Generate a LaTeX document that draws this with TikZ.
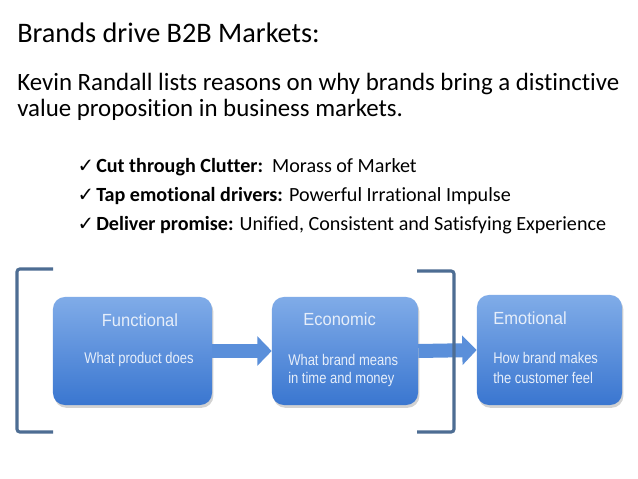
\documentclass[tikz,border=0pt]{standalone}
\usepackage{fontspec}
\setmainfont[Ligatures=NoCommon]{Carlito}
\newfontfamily\boxfont[FakeStretch=0.84]{Liberation Sans}
\newfontfamily\headfont[FakeStretch=0.94]{Liberation Sans}
\newfontfamily\tickfont{DejaVu Sans}
\usetikzlibrary{arrows.meta,shadows}
\definecolor{brk}{HTML}{4D6D93}
\definecolor{boxtop}{HTML}{80ACE8}
\definecolor{boxmid}{HTML}{5C92DE}
\definecolor{boxbot}{HTML}{3A76D0}
\definecolor{boxtxt}{HTML}{E6EEFA}
\definecolor{shaft}{HTML}{5A8FDA}
\newcommand\tck{\llap{{\tickfont\fontsize{14}{14}\selectfont ✓}\hspace{1.5pt}}}
\tikzset{
  box/.style={rounded corners=0.3cm, top color=boxtop, middle color=boxmid, bottom color=boxbot,
    drop shadow={opacity=0.35, shadow xshift=1pt, shadow yshift=-2pt}, minimum height=2.7cm, inner sep=0pt},
  ttl/.style={text=boxtxt, font=\headfont\fontsize{12.5}{14}\selectfont, inner sep=0pt},
  sub/.style={text=boxtxt, font=\boxfont\fontsize{11}{13}\selectfont, inner sep=0pt},
  blk/.style={draw=shaft, line width=0.35cm, -{Triangle[length=0.36cm, width=0.72cm]}},
  brack/.style={draw=brk, line width=2.2pt, rounded corners=2pt},
  txt/.style={inner sep=0pt, anchor=base west}
}

\begin{document}
\begin{tikzpicture}[x=0.025cm, y=-0.025cm]
\fill[white] (0,0) rectangle (638,479);
\useasboundingbox (0,0) rectangle (638,479);

% heading and intro
\node[txt, font=\fontsize{20.1}{24}\selectfont] (title) at (17,43) {Brands drive B2B Markets:};
\node[txt, font=\fontsize{17.7}{21}\selectfont] (intro1) at (17,91) {Kevin Randall lists reasons on why brands bring a distinctive};
\node[txt, font=\fontsize{17.7}{21}\selectfont] (intro2) at (17,117) {value proposition in business markets.};

% bullets
\node[txt, font=\fontsize{14.3}{18}\selectfont] (b1) at (96,172) {\tck\textbf{Cut through Clutter:}\ \ Morass of Market};
\node[txt, font=\fontsize{14.3}{18}\selectfont] (b2) at (96,201) {\tck\textbf{Tap emotional drivers:} Powerful Irrational Impulse};
\node[txt, font=\fontsize{14.3}{18}\selectfont] (b3) at (96,230) {\tck\textbf{Deliver promise:} Unified, Consistent and Satisfying Experience};

% the three boxes
\node[box, minimum width=3.975cm] (func) at (132.5,351) {};
\node[box, minimum width=3.65cm] (econ) at (345,351) {};
\node[box, minimum width=3.625cm, minimum height=2.75cm] (emot) at (549.5,350) {};

\node[ttl, anchor=base] (funct) at (140,326) {Functional};
\node[sub, anchor=base] (funcs) at (139,363) {What product does};
\node[ttl, anchor=base west] (econt) at (303,325) {Economic};
\node[sub, anchor=base west] (econs1) at (288,365) {What brand means};
\node[sub, anchor=base west] (econs2) at (288,383) {in time and money};
\node[ttl, anchor=base west] (emott) at (493,324) {Emotional};
\node[sub, anchor=base west] (emots1) at (493,363) {How\ brand makes};
\node[sub, anchor=base west] (emots2) at (493,383) {the customer feel};

\draw[blk] (func.east) -- (econ.west);
\draw[blk] (econ.east) -- (emot.west);

% brackets
\draw[brack] (53,269) -- (17,269) -- (17,432) -- (53,432);
\draw[brack] (417,271) -- (454,271) -- (454,432) -- (417,432);
\end{tikzpicture}
\end{document}
